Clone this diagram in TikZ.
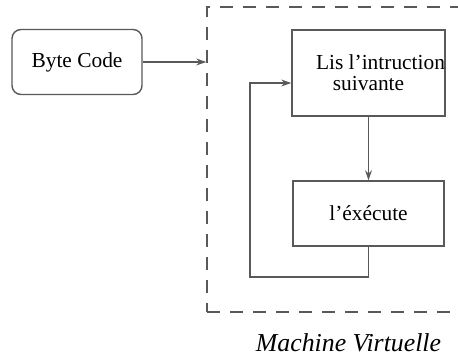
\documentclass[tikz,border=0pt]{standalone}
\usepackage{fontspec}
\setmainfont{Liberation Serif}
\usetikzlibrary{arrows.meta,positioning}

\colorlet{linecol}{black!65}

\begin{document}
\begin{tikzpicture}[
  x=0.5pt, y=0.5pt,
  box/.style={draw=linecol, line width=0.7pt, minimum width=75.5pt, align=center,
    font=\fontsize{10.7}{10.6}\selectfont, inner sep=0pt},
  codebox/.style={box, rounded corners=4.5pt, minimum width=65pt, minimum height=32.5pt},
  instrbox/.style={box, minimum height=43pt},
  execbox/.style={box, minimum height=32.5pt},
  vmbox/.style={draw=linecol, line width=0.7pt, dash pattern=on 6.5pt off 5pt,
    minimum width=131.5pt, minimum height=152.5pt, inner sep=0pt},
  arr/.style={-{Stealth[length=5pt,width=3.4pt]}, draw=linecol, line width=0.7pt}
]
\clip (0,0) rectangle (458,358);

\node[vmbox] (vm) at (338.5,198.5) {};
\node[codebox] (bytecode) at (77,296) {Byte Code};
\node[instrbox] (fetch) at (368.5,285) {\hspace*{12pt}Lis l'intruction\\suivante};
\node[execbox] (exec) at (368.5,144.5) {l'éxécute};
\node[font=\fontsize{12.9}{14}\selectfont\itshape] (vmlabel) at (348.5,15) {Machine Virtuelle};

% loop back from the execution step to the fetch step
\coordinate (loopin) at ([yshift=-5pt]fetch.west);
\coordinate (loopcorner) at (250,81);

\draw[arr] (bytecode.east) -- (bytecode.east -| vm.west);
\draw[arr] (fetch) -- (exec);
\draw[arr] (exec.south) |- (loopcorner) |- (loopin);
\end{tikzpicture}
\end{document}
